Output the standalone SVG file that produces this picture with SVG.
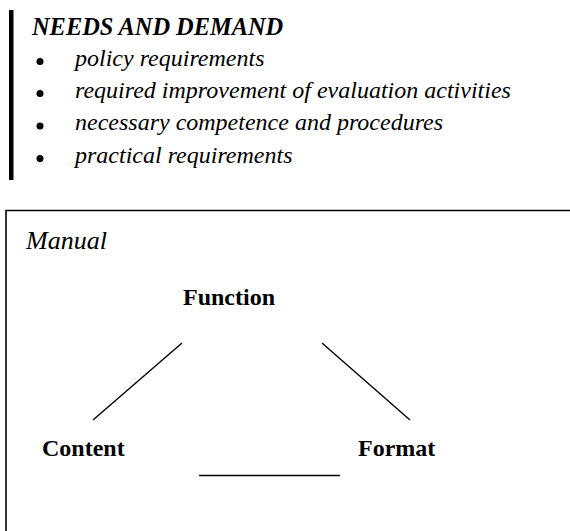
<svg xmlns="http://www.w3.org/2000/svg" width="570" height="531" viewBox="0 0 570 531">
  <style>
    .head { font-family: "Liberation Serif", "Times New Roman", serif; font-size: 24.4px; font-weight: bold; font-style: italic; fill: #000; }
    .item { font-family: "Liberation Serif", "Times New Roman", serif; font-size: 24px; font-style: italic; fill: #000; }
    .title { font-family: "Liberation Serif", "Times New Roman", serif; font-size: 26px; font-style: italic; fill: #000; }
    .node { font-family: "Liberation Serif", "Times New Roman", serif; font-size: 24px; font-weight: bold; fill: #000; }
    .link { stroke: #000; stroke-width: 1.4; fill: none; }
  </style>
  <rect width="570" height="531" fill="#fff"/>

  <!-- needs and demand list -->
  <g id="needs">
    <rect x="9" y="10" width="4.5" height="170" fill="#000"/>
    <text class="head" x="32" y="35">NEEDS AND DEMAND</text>
    <g fill="#000">
      <circle cx="40" cy="61.5" r="3.5"/>
      <circle cx="40" cy="93.5" r="3.5"/>
      <circle cx="40" cy="126" r="3.5"/>
      <circle cx="40" cy="158.5" r="3.5"/>
    </g>
    <text class="item" x="75" y="66">policy requirements</text>
    <text class="item" x="75" y="98">required improvement of evaluation activities</text>
    <text class="item" x="75" y="130">necessary competence and procedures</text>
    <text class="item" x="75" y="163">practical requirements</text>
  </g>

  <!-- manual frame -->
  <g id="manual">
    <path d="M6,540 V210.5 H580" stroke="#000" stroke-width="1.6" fill="none"/>
    <text class="title" x="26" y="249">Manual</text>
  </g>

  <g id="function"><text class="node" x="183" y="305">Function</text></g>
  <g id="content"><text class="node" x="42" y="456">Content</text></g>
  <g id="format"><text class="node" x="358" y="456">Format</text></g>

  <g id="connectors">
    <line class="link" x1="182" y1="343" x2="93" y2="420"/>
    <line class="link" x1="322" y1="343" x2="410" y2="420"/>
    <line class="link" x1="199" y1="475.5" x2="340" y2="475.5"/>
  </g>
</svg>
